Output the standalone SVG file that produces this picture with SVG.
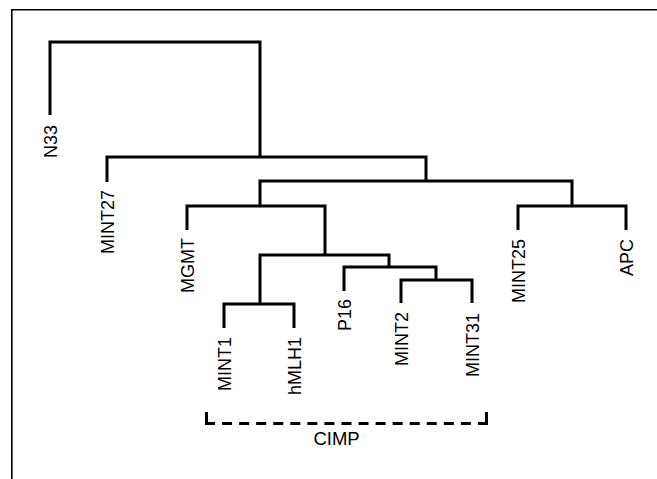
<svg xmlns="http://www.w3.org/2000/svg" width="657" height="479" viewBox="0 0 657 479">
<style>
.frame{fill:none;stroke:#000;stroke-width:1.6}
.link{fill:none;stroke:#000;stroke-width:3;stroke-linejoin:miter;stroke-linecap:butt}
.lbl{font-family:"Liberation Sans",Arial,sans-serif;font-size:18px;fill:#000;text-anchor:end}
.cimp{font-family:"Liberation Sans",Arial,sans-serif;font-size:18.5px;fill:#000;text-anchor:middle}
.dash{fill:none;stroke:#000;stroke-width:3;stroke-dasharray:10 7.06}
.tick{fill:none;stroke:#000;stroke-width:3}
</style>
<rect width="657" height="479" fill="#fff"/>
<path class="frame" d="M11.8,479 V9.8 H657"/>
<g id="connectors">
<path class="link" d="M50,115 V42 H260 V157"/>
<path class="link" d="M107,182 V157 H426 V181"/>
<path class="link" d="M260,206 V181 H572 V206"/>
<path class="link" d="M187,230 V206 H325 V255"/>
<path class="link" d="M518,230 V206 H626 V230"/>
<path class="link" d="M260,304 V255 H389 V267"/>
<path class="link" d="M224,328 V304 H294 V328"/>
<path class="link" d="M344,291 V267 H436 V280"/>
<path class="link" d="M401,303 V280 H472 V303"/>
</g>
<g id="N33"><text class="lbl" transform="translate(57,125) rotate(-90)">N33</text></g>
<g id="MINT27"><text class="lbl" transform="translate(113.5,190) rotate(-90)">MINT27</text></g>
<g id="MGMT"><text class="lbl" transform="translate(193.5,238) rotate(-90)">MGMT</text></g>
<g id="MINT25"><text class="lbl" transform="translate(524.5,239) rotate(-90)">MINT25</text></g>
<g id="APC"><text class="lbl" transform="translate(632.5,239) rotate(-90)">APC</text></g>
<g id="MINT1"><text class="lbl" transform="translate(230.5,337) rotate(-90)">MINT1</text></g>
<g id="hMLH1"><text class="lbl" transform="translate(300.5,337) rotate(-90)">hMLH1</text></g>
<g id="P16"><text class="lbl" transform="translate(350.5,299) rotate(-90)">P16</text></g>
<g id="MINT2"><text class="lbl" transform="translate(407.5,312) rotate(-90)">MINT2</text></g>
<g id="MINT31"><text class="lbl" transform="translate(478.5,313) rotate(-90)">MINT31</text></g>
<g id="CIMP">
<path class="tick" d="M206.5,412 V425"/>
<path class="tick" d="M486.5,412 V425"/>
<path class="dash" d="M205,423.5 H488"/>
<text class="cimp" x="336.5" y="445">CIMP</text>
</g>
</svg>
